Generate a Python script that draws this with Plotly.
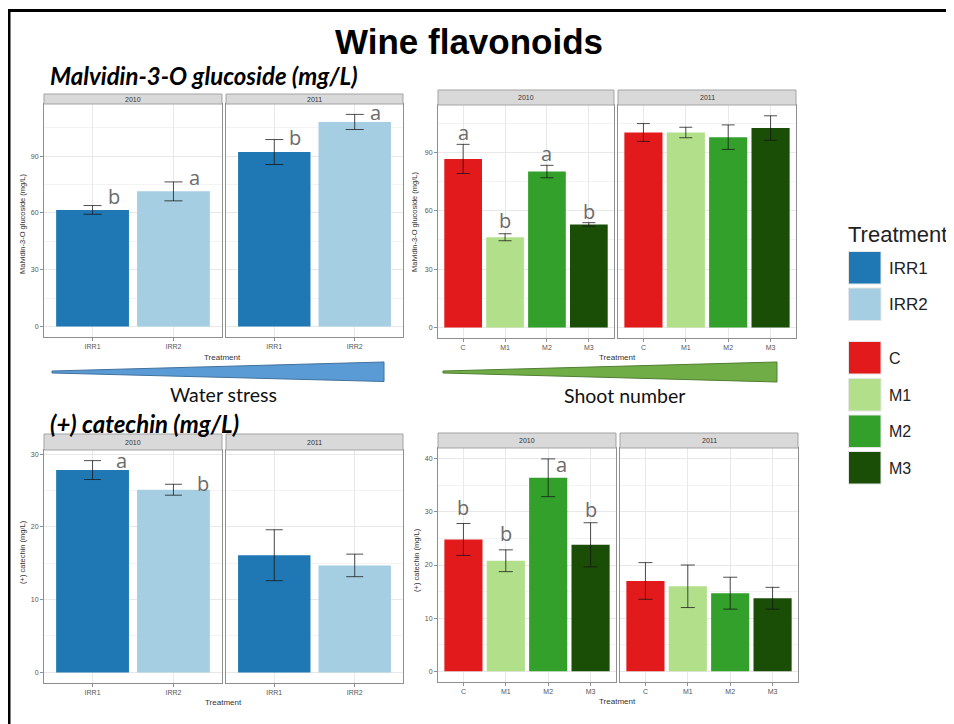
import plotly.graph_objects as go

# ---------------- data ----------------
years = ["2010", "2011"]
water_trt = ["IRR1", "IRR2"]
shoot_trt = ["C", "M1", "M2", "M3"]
legend_labels = water_trt + shoot_trt

water_colors = ["#1f78b4", "#a6cee3"]
shoot_colors = ["#e31a1c", "#b2df8a", "#33a02c", "#1a4d06"]

# Malvidin-3-O glucoside (mg/L)
malv_water_2010 = [61.6, 71.4]
malv_water_2010_se = [2.3, 5.0]
malv_water_2010_letters = ["b", "a"]
malv_water_2011 = [92.2, 108.1]
malv_water_2011_se = [6.6, 4.0]
malv_water_2011_letters = ["b", "a"]

malv_shoot_2010 = [86.7, 46.4, 80.2, 53.0]
malv_shoot_2010_se = [7.5, 1.8, 3.2, 0.9]
malv_shoot_2010_letters = ["a", "b", "a", "b"]
malv_shoot_2011 = [100.3, 100.3, 97.9, 102.6]
malv_shoot_2011_se = [4.6, 2.7, 6.3, 6.3]
malv_shoot_2011_letters = ["", "", "", ""]

# (+) catechin (mg/L)
cat_water_2010 = [27.8, 25.1]
cat_water_2010_se = [1.3, 0.75]
cat_water_2010_letters = ["a", "b"]
cat_water_2011 = [16.1, 14.7]
cat_water_2011_se = [3.5, 1.55]
cat_water_2011_letters = ["", ""]

cat_shoot_2010 = [24.8, 20.8, 36.4, 23.8]
cat_shoot_2010_se = [3.0, 2.05, 3.55, 4.15]
cat_shoot_2010_letters = ["b", "b", "a", "b"]
cat_shoot_2011 = [17.0, 16.0, 14.7, 13.75]
cat_shoot_2011_se = [3.45, 4.0, 3.0, 2.05]
cat_shoot_2011_letters = ["", "", "", ""]

# ---------------- layout helpers ----------------
# the page body adds an 8px margin, so the figure is drawn 8px in from the window edge
OFF = 8
FW, FH = 954 - OFF, 724 - OFF


def px(x):
    return (x - OFF) / FW


def py(y):
    return 1 - (y - OFF) / FH


TICK_FONT = dict(family="Liberation Sans, Arial", size=7, color="#555555")
AX_COL = "#8f8f8f"
GRID = "#e8e8e8"
MINOR = "#f3f3f3"
LETTER_FONT = dict(family="Open Sans", size=20, color="#6b6b6b")

groups = [
    dict(cats=water_trt, colors=water_colors, ytitle="Malvidin-3-O glucoside (mg/L)",
         data=[(malv_water_2010, malv_water_2010_se, malv_water_2010_letters),
               (malv_water_2011, malv_water_2011_se, malv_water_2011_letters)],
         xs=[(44, 222), (226, 403)], ys=(104, 337), strip=94, yrange=[-5.6, 117.6], dtick=30,
         cap=9, ldx=0.26, lshift=[[9, 4], [2, 2]], ytitle_pos=(22, 224), xtitle_pos=(222, 357)),
    dict(cats=shoot_trt, colors=shoot_colors, ytitle="Malvidin-3-O glucoside (mg/L)",
         data=[(malv_shoot_2010, malv_shoot_2010_se, malv_shoot_2010_letters),
               (malv_shoot_2011, malv_shoot_2011_se, malv_shoot_2011_letters)],
         xs=[(438, 614), (618, 796)], ys=(105, 338), strip=90, yrange=[-5.45, 114.45], dtick=30,
         cap=6.5, ldx=0.0, lshift=[[12, 13, 12, 11], [0, 0, 0, 0]], ytitle_pos=(414, 222),
         xtitle_pos=(617, 357)),
    dict(cats=water_trt, colors=water_colors, ytitle="(+) catechin (mg/L)",
         data=[(cat_water_2010, cat_water_2010_se, cat_water_2010_letters),
               (cat_water_2011, cat_water_2011_se, cat_water_2011_letters)],
         xs=[(44, 222), (226, 403)], ys=(450, 683), strip=434, yrange=[-1.46, 30.56], dtick=10,
         cap=8.5, ldx=0.36, lshift=[[0, 1], [0, 0]], ytitle_pos=(22, 552), xtitle_pos=(223, 702)),
    dict(cats=shoot_trt, colors=shoot_colors, ytitle="(+) catechin (mg/L)",
         data=[(cat_shoot_2010, cat_shoot_2010_se, cat_shoot_2010_letters),
               (cat_shoot_2011, cat_shoot_2011_se, cat_shoot_2011_letters)],
         xs=[(438, 616), (620, 798)], ys=(448, 682), strip=433, yrange=[-2.0, 42.0], dtick=10,
         cap=7, ldx=[0, 0, 0.31, 0], lshift=[[16, 16, -6, 13], [0, 0, 0, 0]], ytitle_pos=(416, 560),
         xtitle_pos=(617, 701)),
]

fig = go.Figure()
layout = {}
annotations = []
shapes = []

idx = 0
for g in groups:
    n = len(g["cats"])
    for j, (vals, se, letters) in enumerate(g["data"]):
        idx += 1
        xa = "x" if idx == 1 else f"x{idx}"
        ya = "y" if idx == 1 else f"y{idx}"
        xkey = "xaxis" if idx == 1 else f"xaxis{idx}"
        ykey = "yaxis" if idx == 1 else f"yaxis{idx}"
        x0, x1 = g["xs"][j]
        ytop, ybot = g["ys"]

        fig.add_trace(go.Bar(
            x=g["cats"], y=vals, width=0.9,
            marker=dict(color=g["colors"], line=dict(width=0)),
            error_y=dict(type="data", array=se, visible=True, color="rgba(20,20,20,0.75)",
                         thickness=1, width=g["cap"]),
            xaxis=xa, yaxis=ya, showlegend=False, hoverinfo="skip",
        ))

        layout[xkey] = dict(
            domain=[px(x0), px(x1)], anchor=ya, type="category",
            categoryorder="array", categoryarray=g["cats"], range=[-0.6, n - 0.4],
            showline=True, mirror=True, linecolor=AX_COL, linewidth=1,
            showgrid=True, gridcolor=GRID, gridwidth=1,
            ticks="outside", ticklen=3, tickcolor=AX_COL, tickfont=TICK_FONT,
            zeroline=False, fixedrange=True,
        )
        layout[ykey] = dict(
            domain=[py(ybot), py(ytop)], anchor=xa, range=g["yrange"],
            tick0=0, dtick=g["dtick"],
            showline=True, mirror=True, linecolor=AX_COL, linewidth=1,
            showgrid=True, gridcolor=GRID, gridwidth=1,
            minor=dict(dtick=g["dtick"] / 2, tick0=0, showgrid=True, gridcolor=MINOR, gridwidth=0.6),
            ticks="outside" if j == 0 else "", ticklen=3, tickcolor=AX_COL,
            showticklabels=(j == 0), tickfont=TICK_FONT, zeroline=False, fixedrange=True,
        )

        # strip
        shapes.append(dict(type="rect", xref="paper", yref="paper",
                           x0=px(x0), x1=px(x1), y0=py(ytop), y1=py(g["strip"]),
                           fillcolor="#d9d9d9", line=dict(color="#a3a3a3", width=1), layer="above"))
        annotations.append(dict(text=years[j], xref="paper", yref="paper",
                                x=px((x0 + x1) / 2), y=py((ytop + g["strip"]) / 2),
                                showarrow=False, xanchor="center", yanchor="middle",
                                font=dict(family="Liberation Sans, Arial", size=7, color="#333333")))

        # significance letters
        for k, lt in enumerate(letters):
            if not lt:
                continue
            dx = g["ldx"][k] if isinstance(g["ldx"], list) else g["ldx"]
            annotations.append(dict(text=lt, xref=xa, yref=ya, x=k + dx, y=vals[k] + se[k],
                                    showarrow=False, xanchor="center", yanchor="middle",
                                    yshift=g["lshift"][j][k], font=LETTER_FONT))

    # axis titles
    tx, ty = g["ytitle_pos"]
    annotations.append(dict(text=g["ytitle"], xref="paper", yref="paper", x=px(tx), y=py(ty),
                            showarrow=False, textangle=-90, xanchor="center", yanchor="middle",
                            font=dict(family="Liberation Sans, Arial", size=7.5, color="#333333")))
    tx, ty = g["xtitle_pos"]
    annotations.append(dict(text="Treatment", xref="paper", yref="paper", x=px(tx), y=py(ty),
                            showarrow=False, xanchor="center", yanchor="middle",
                            font=dict(family="Liberation Sans, Arial", size=8, color="#333333")))

# ---------------- titles & notes ----------------
annotations.append(dict(text="<b>Wine flavonoids</b>", xref="paper", yref="paper",
                        x=px(469), y=py(42), showarrow=False, xanchor="center", yanchor="middle",
                        font=dict(family="Liberation Sans, Arial", size=35, color="#000000")))
annotations.append(dict(text="<b><i>Malvidin-3-O glucoside (mg/L)</i></b>", xref="paper", yref="paper",
                        x=px(48), y=py(76), showarrow=False, xanchor="left", yanchor="middle",
                        font=dict(family="Lato", size=24, color="#000000")))
annotations.append(dict(text="<b><i>(+) catechin (mg/L)</i></b>", xref="paper", yref="paper",
                        x=px(48), y=py(423), showarrow=False, xanchor="left", yanchor="middle",
                        font=dict(family="Lato", size=24, color="#000000")))
annotations.append(dict(text="Water stress", xref="paper", yref="paper",
                        x=px(223), y=py(394), showarrow=False, xanchor="center", yanchor="middle",
                        font=dict(family="Lato", size=19.5, color="#111111")))
annotations.append(dict(text="Shoot number", xref="paper", yref="paper",
                        x=px(624), y=py(395), showarrow=False, xanchor="center", yanchor="middle",
                        font=dict(family="Lato", size=19.5, color="#111111")))


# wedges
def wedge(xl, yl, xr, yt, yb, fill, line):
    path = (f"M {px(xl)} {py(yl - 1)} L {px(xr)} {py(yt)} L {px(xr)} {py(yb)} "
            f"L {px(xl)} {py(yl + 1)} Z")
    return dict(type="path", xref="paper", yref="paper", path=path,
                fillcolor=fill, line=dict(color=line, width=1))


shapes.append(wedge(52, 372, 384, 362, 381.5, "#5b9bd5", "#41719c"))
shapes.append(wedge(443, 372, 777, 362, 382, "#70ad47", "#507e32"))

# legend (drawn manually)
annotations.append(dict(text="Treatment", xref="paper", yref="paper", x=px(846), y=py(235),
                        showarrow=False, xanchor="left", yanchor="middle",
                        font=dict(family="Liberation Sans, Arial", size=22, color="#222222")))
all_colors = water_colors + shoot_colors
sw_tops = [251.5, 288, 341.5, 378.5, 415, 451.5]
for lab, col, top in zip(legend_labels, all_colors, sw_tops):
    shapes.append(dict(type="rect", xref="paper", yref="paper",
                       x0=px(848.5), x1=px(881), y0=py(top + 32.5), y1=py(top),
                       fillcolor=col, line=dict(color="#e6e6e6", width=1)))
    big = lab.startswith("IRR")
    annotations.append(dict(text=lab, xref="paper", yref="paper", x=px(887), y=py(top + 16.5),
                            showarrow=False, xanchor="left", yanchor="middle",
                            font=dict(family="Liberation Sans, Arial", size=17 if big else 16,
                                      color="#222222")))

# slide frame
shapes.append(dict(type="line", xref="paper", yref="paper", x0=px(7), x1=1.0, y0=py(10.5), y1=py(10.5),
                   line=dict(color="#000000", width=3)))
shapes.append(dict(type="line", xref="paper", yref="paper", x0=px(9), x1=px(9), y0=py(9), y1=0,
                   line=dict(color="#000000", width=3)))

fig.update_layout(
    width=FW, height=FH, margin=dict(l=0, r=0, t=0, b=0),
    paper_bgcolor="white", plot_bgcolor="white",
    bargap=0.1, annotations=annotations, shapes=shapes, showlegend=False,
    **layout,
)

fig.write_html("out.html")
